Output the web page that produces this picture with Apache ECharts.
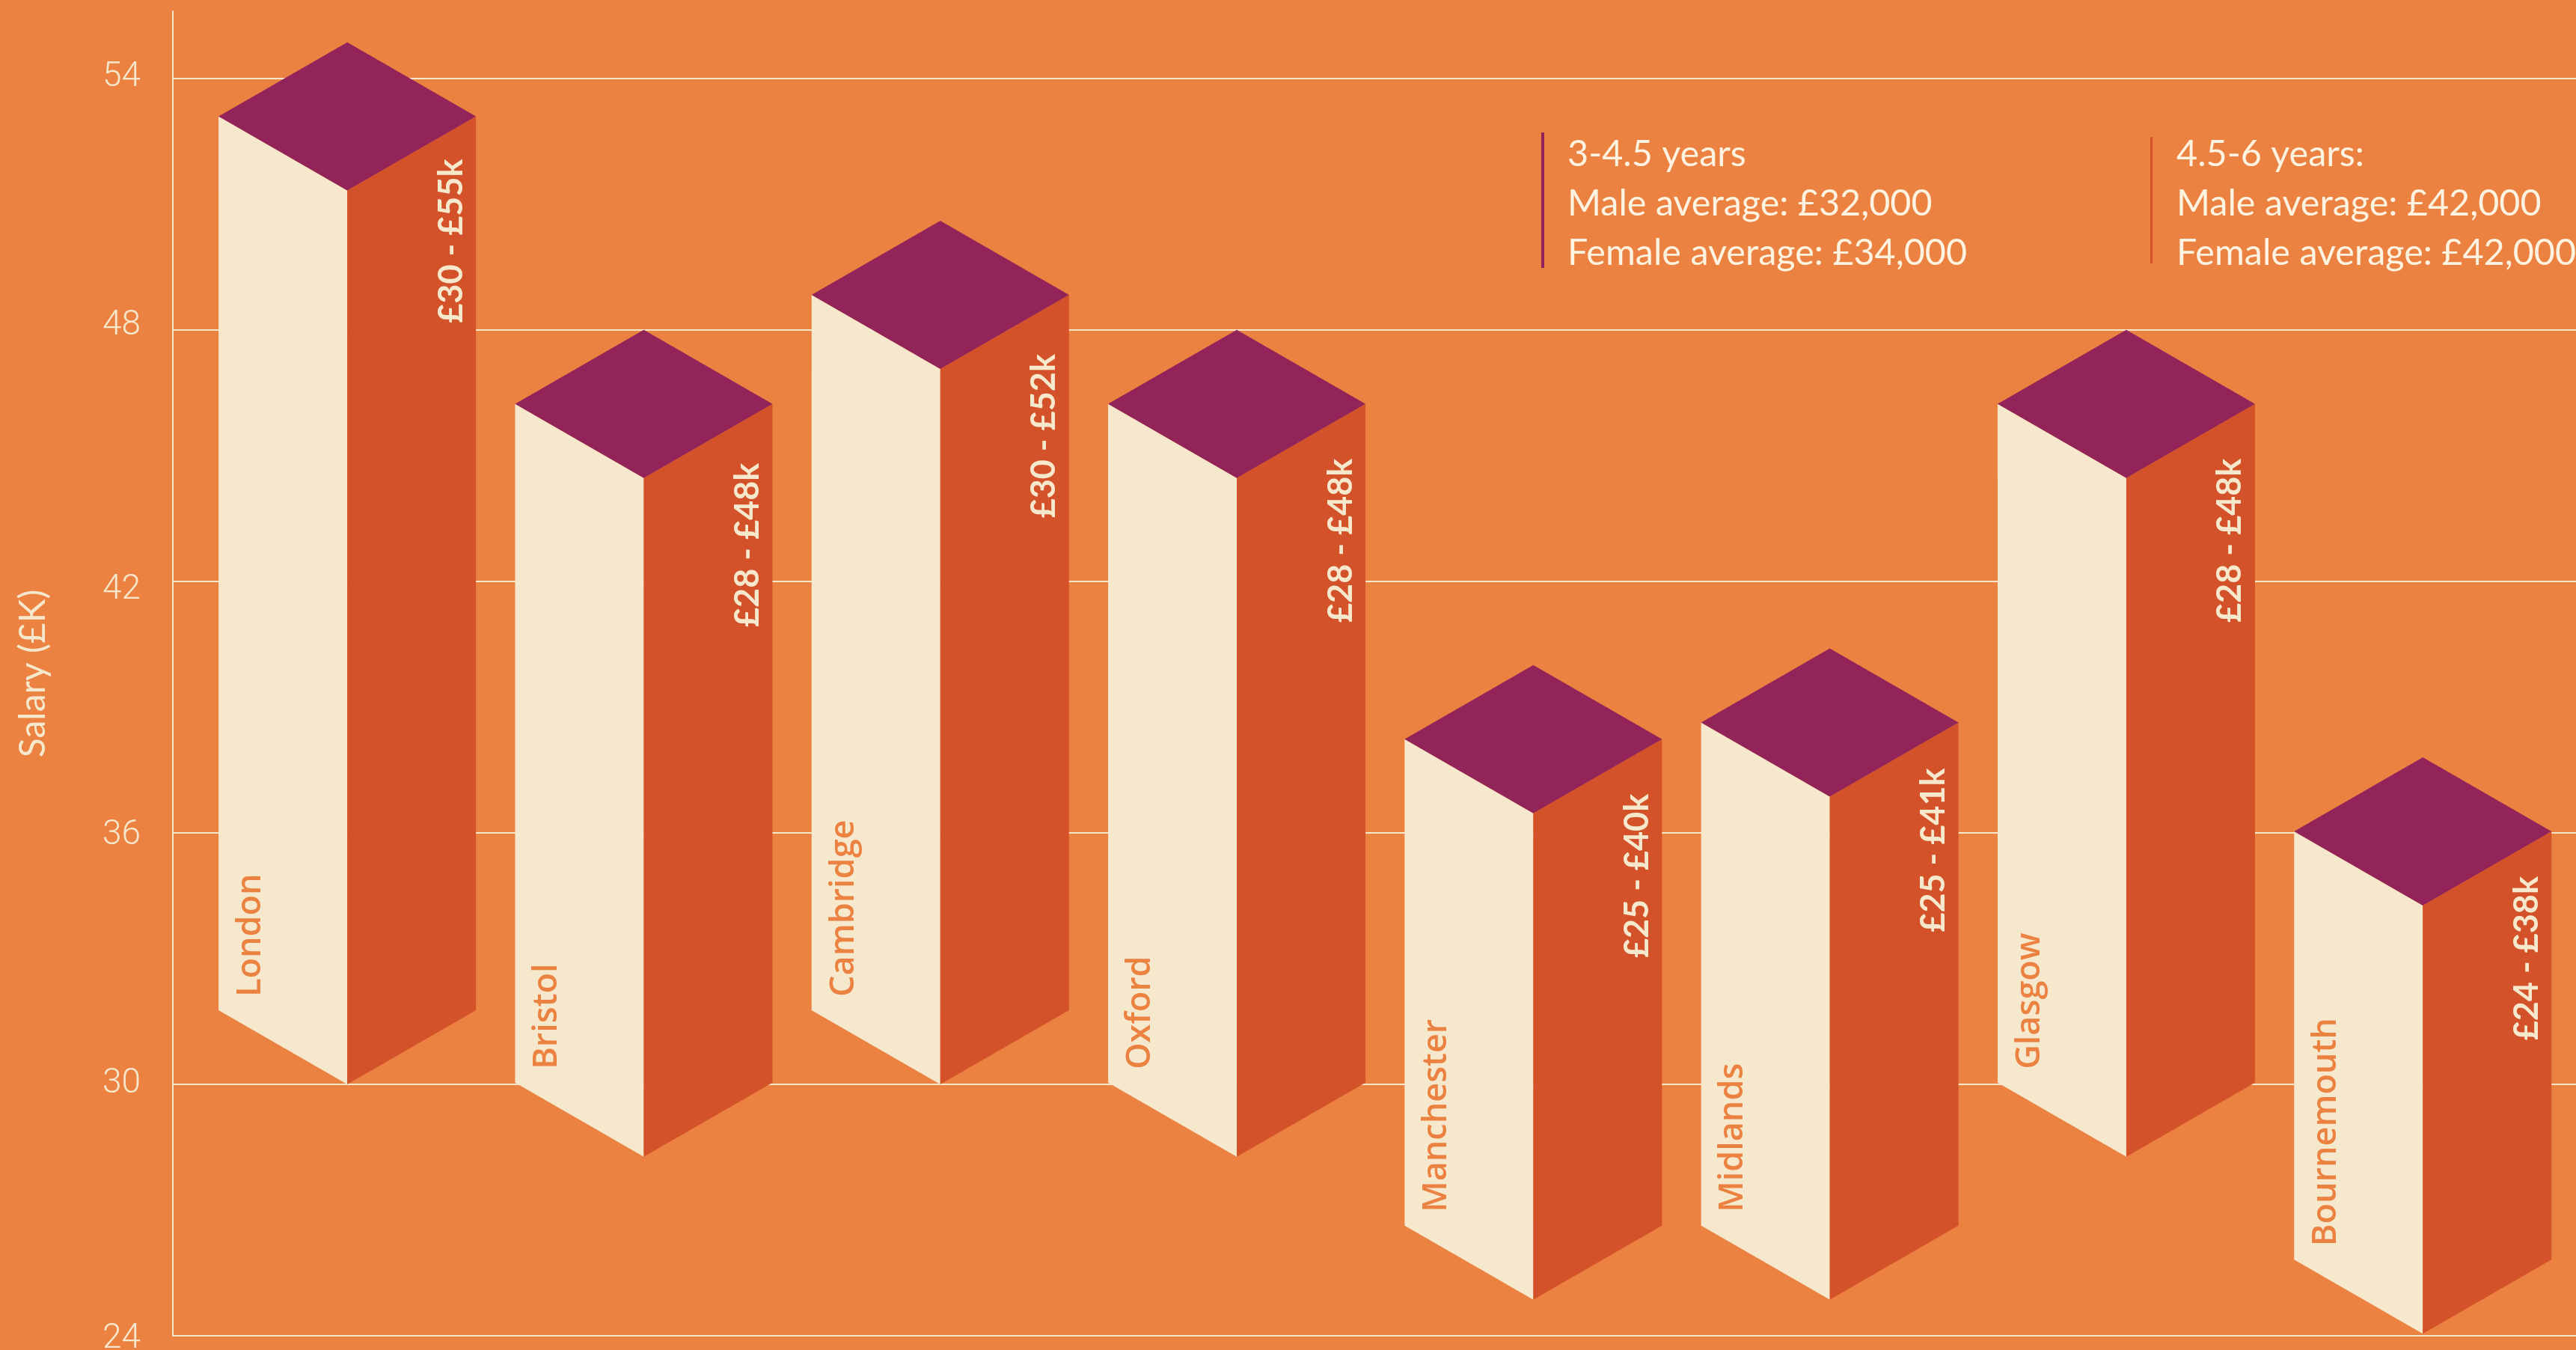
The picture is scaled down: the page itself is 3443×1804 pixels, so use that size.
<!DOCTYPE html>
<html>
<head>
<meta charset="utf-8">
<style>html,body{margin:0;padding:0;background:#EB8241}#c{width:3443px;height:1804px}</style>
<script src="https://cdn.jsdelivr.net/npm/echarts@6/dist/echarts.min.js"></script>
</head>
<body>
<div id="c"></div>
<script>
var categories = ['London','Bristol','Cambridge','Oxford','Manchester','Midlands','Glasgow','Bournemouth'];
var lowValues = [30,28.27,30,28.27,24.86,24.86,28.27,24.05];
var highValues = [54.86,48,50.6,48,40,40.4,48,37.8];
var rangeLabels = ['£30 - £55k','£28 - £48k','£30 - £52k','£28 - £48k','£25 - £40k','£25 - £41k','£28 - £48k','£24 - £38k'];
var yTicks = [24,30,36,42,48,54];
var legendA = ['3-4.5 years','Male average: £32,000','Female average: £34,000'];
var legendB = ['4.5-6 years:','Male average: £42,000','Female average: £42,000'];

// layout tuning (separate from data)
var rangeNudge = [57,79,79,73,73,61,73,60];
var tickNudge = {24:-4,30:0,36:-4,42:-12,48:5,54:1};
var HALF_D = 99, BG='#EB8241', CREAM='#F6E8CC', TOP='#92245A', RIGHT='#D45229';
var FONT = 'Lato';

var chart = echarts.init(document.getElementById('c'), null, {renderer:'canvas'});

function legendText(x, lines){
  var ys=[206,272,338];
  return lines.map(function(t,i){
    return {type:'text', x:x, y:ys[i], silent:true,
      style:{text:t, fill:'#FDF3E0', fontFamily:FONT, fontSize:48.5, align:'left', verticalAlign:'middle'}};
  });
}

var tickRich = {};
yTicks.forEach(function(t){
  var n = tickNudge[t];
  tickRich['t'+t] = {color:CREAM, fontFamily:'Roboto', fontWeight:300, fontSize:46,
    padding: n>=0 ? [0,0,2*n,0] : [-2*n,0,0,0]};
});

chart.setOption({
  animation:false,
  backgroundColor:BG,
  grid:[
    {left:231, right:0, top:15, bottom:19, outerBoundsMode:'none'},
    {left:266, width:3170.4, top:15, bottom:19, outerBoundsMode:'none'}
  ],
  xAxis:[
    {gridIndex:0, type:'value', min:0, max:1, show:false},
    {gridIndex:1, type:'category', data:categories, show:false}
  ],
  yAxis:[
    {gridIndex:0, type:'value', min:24, max:55.6, interval:6,
     name:'Salary (£K)', nameLocation:'middle', nameGap:162, nameRotate:90,
     nameTextStyle:{color:CREAM, fontFamily:FONT, fontSize:48},
     axisLine:{show:true, lineStyle:{color:CREAM, width:2}},
     axisTick:{show:false},
     axisLabel:{margin:43, showMaxLabel:false, color:CREAM,
       formatter:function(v){ return yTicks.indexOf(v)>=0 ? '{t'+v+'|'+v+'}' : ''; }, rich:tickRich},
     splitLine:{show:true, showMaxLine:false, lineStyle:{color:CREAM, width:2}}},
    {gridIndex:1, type:'value', min:24, max:55.6, interval:6, show:false}
  ],
  graphic:{elements:[
    {type:'rect', shape:{x:2060,y:177,width:4,height:181}, style:{fill:TOP}, silent:true},
    {type:'rect', shape:{x:2874,y:183,width:3,height:169}, style:{fill:RIGHT}, silent:true}
  ].concat(legendText(2095,legendA), legendText(2909,legendB))},
  series:[{
    type:'custom',
    xAxisIndex:1, yAxisIndex:1,
    clip:false,
    data: categories.map(function(c,i){ return [i, lowValues[i], highValues[i]]; }),
    encode:{x:0, y:[1,2]},
    renderItem:function(params, api){
      var i = api.value(0);
      var apex = api.coord([i, api.value(2)]);
      var foot = api.coord([i, api.value(1)]);
      var hw = api.size([1,0])[0]*0.434;
      var cx = apex[0], ay = apex[1], fy = foot[1];
      var sideY = ay+HALF_D, frontY = ay+2*HALF_D;
      var l = cx-hw, r = cx+hw;
      return {type:'group', children:[
        {type:'polygon', shape:{points:[[l,sideY],[cx,frontY],[cx,fy],[l,fy-HALF_D]]}, style:{fill:CREAM}},
        {type:'polygon', shape:{points:[[r,sideY],[cx,frontY],[cx,fy],[r,fy-HALF_D]]}, style:{fill:RIGHT}},
        {type:'polygon', shape:{points:[[cx,ay],[r,sideY],[cx,frontY],[l,sideY]]}, style:{fill:TOP}},
        {type:'text', x:l+43, y:fy-HALF_D-18, rotation:Math.PI/2,
         style:{text:categories[i], fill:BG, fontFamily:'Open Sans', fontWeight:600, fontSize:45, align:'left', verticalAlign:'middle'}},
        {type:'text', x:r-33, y:sideY+rangeNudge[i], rotation:Math.PI/2,
         style:{text:rangeLabels[i], fill:CREAM, fontFamily:FONT, fontWeight:700, fontSize:45, align:'right', verticalAlign:'middle'}}
      ]};
    }
  }]
});
</script>
</body>
</html>
